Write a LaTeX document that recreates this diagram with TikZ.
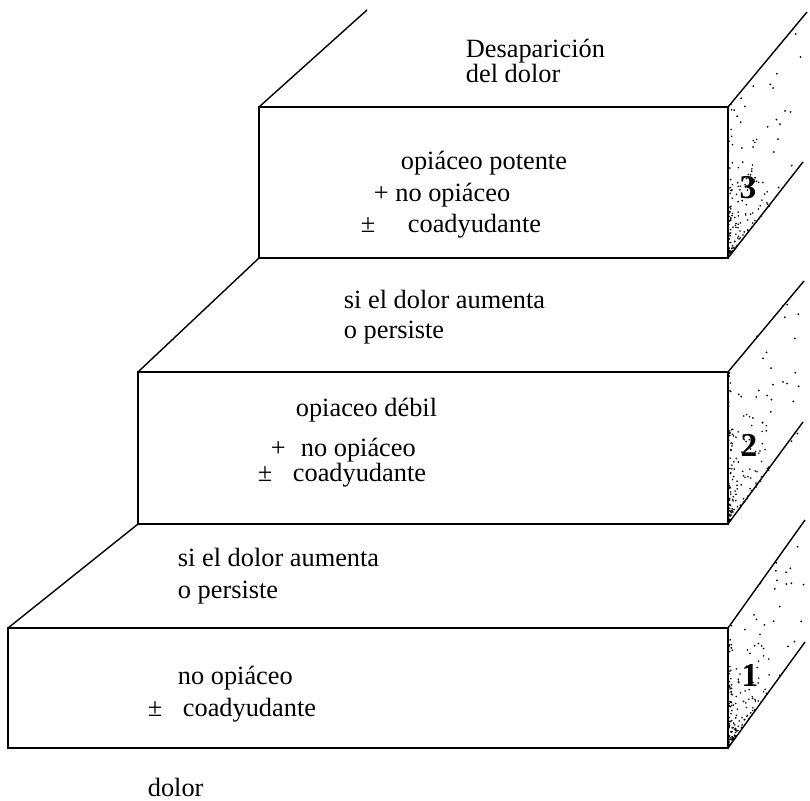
\documentclass[tikz,border=0pt]{standalone}
\usepackage{fontspec}
\setmainfont{Liberation Serif}
\usetikzlibrary{calc}

\begin{document}
\begin{tikzpicture}[x=0.02cm,y=-0.02cm,line width=1pt,
  lbl/.style={anchor=base west,inner sep=0pt,font=\fontsize{15}{18}\selectfont},
  num/.style={inner sep=0pt,font=\fontsize{19}{22}\selectfont\bfseries},
  diag/.style={line width=0.8pt},
  speck/.style={fill=black}]
\useasboundingbox (0,0) rectangle (810,800);
\pgfmathsetseed{11}

% corners of the three steps
\coordinate (tl1) at (8,628);   \coordinate (br1) at (728,748);
\coordinate (tr1) at (728,628); \coordinate (bl1) at (8,748);
\coordinate (tl2) at (138,372); \coordinate (br2) at (728,524);
\coordinate (tr2) at (728,372); \coordinate (bl2) at (138,524);
\coordinate (tl3) at (259,107); \coordinate (br3) at (728,258);
\coordinate (tr3) at (728,107); \coordinate (bl3) at (259,258);
\coordinate (top3) at (367,10);
\coordinate (tr1e) at ($(tr1)+(77,-108)$);
\coordinate (br1e) at ($(br1)+(77,-106)$);
\coordinate (tr2e) at ($(tr2)+(76,-91)$);
\coordinate (br2e) at ($(br2)+(75,-102)$);
\coordinate (tr3e) at ($(tr3)+(79,-95)$);
\coordinate (br3e) at ($(br3)+(75,-96)$);

% stippled side faces
\foreach \top/\bot/\ex/\ey in {107/258/77/-95,372/524/76/-97,628/748/77/-107}{
  \begin{scope}
    \clip (728,\top) -- ++(\ex,\ey) -- ++(0,\bot-\top) -- (728,\bot) -- cycle;
    \foreach \k in {1,...,28}{
      \pgfmathsetmacro\u{rnd}\pgfmathsetmacro\v{rnd}
      \fill[speck] ({728+\u*\ex},{\top+\u*\ey+\v*(\bot-\top)}) circle (1.0);
    }
    \foreach \k in {1,...,130}{
      \pgfmathsetmacro\u{0.55*pow(rnd,2.5)}\pgfmathsetmacro\v{1-0.6*pow(rnd,2)}
      \fill[speck] ({728+\u*\ex},{\top+\u*\ey+\v*(\bot-\top)}) circle (0.9);
    }
    \foreach \k in {1,...,35}{
      \pgfmathsetmacro\u{0.06*rnd}\pgfmathsetmacro\v{rnd}
      \fill[speck] ({728+\u*\ex},{\top+\u*\ey+\v*(\bot-\top)}) circle (0.9);
    }
  \end{scope}
}

% steps
\draw (tl1) rectangle (br1);
\draw (tl2) rectangle (br2);
\draw (tl3) rectangle (br3);
\draw[diag] (tl1) -- (bl2);
\draw[diag] (tl2) -- (bl3);
\draw[diag] (tl3) -- (top3);
\draw[diag] (tr1) -- (tr1e);
\draw[diag] (br1) -- (br1e);
\draw[diag] (tr2) -- (tr2e);
\draw[diag] (br2) -- (br2e);
\draw[diag] (tr3) -- (tr3e);
\draw[diag] (br3) -- (br3e);

% texts
\node[lbl] (desap) at (465,58) {Desaparición};
\node[lbl] (desapb) at (465,83) {del dolor};
\node[lbl] (pot3) at (400,170) {opiáceo potente};
\node[lbl] (plus3) at (373,202) {+ no opiáceo};
\node[lbl] (pm3) at (360,233) {±};
\node[lbl] (coad3) at (407,233) {coadyudante};
\node[lbl] (aum2) at (343,308) {si el dolor aumenta};
\node[lbl] (pers2) at (343,338) {o persiste};
\node[lbl] (deb2) at (295,416) {opiaceo débil};
\node[lbl] (plus2) at (270,456) {+};
\node[lbl] (noop2) at (300,456) {no opiáceo};
\node[lbl] (pm2) at (257,481) {±};
\node[lbl] (coad2) at (292,481) {coadyudante};
\node[lbl] (aum1) at (177,566) {si el dolor aumenta};
\node[lbl] (pers1) at (177,598) {o persiste};
\node[lbl] (noop1) at (177,684) {no opiáceo};
\node[lbl] (pm1) at (147,716) {±};
\node[lbl] (coad1) at (182,716) {coadyudante};
\node[lbl] (dolor) at (147,796) {dolor};

% step numbers
\node[num] (n3) at (748,188) {3};
\node[num] (n2) at (749,445) {2};
\node[num] (n1) at (750,675) {1};
\end{tikzpicture}
\end{document}
